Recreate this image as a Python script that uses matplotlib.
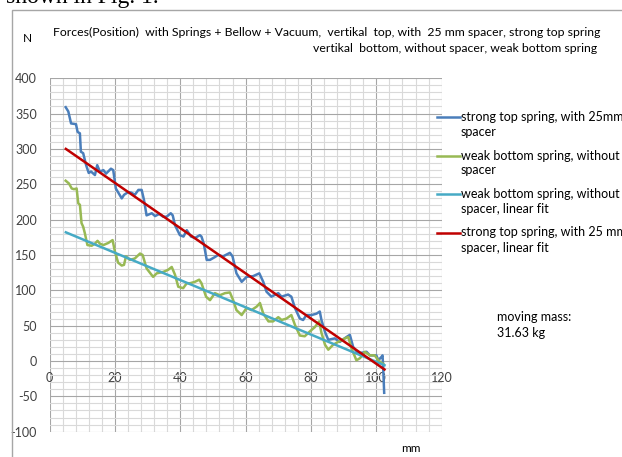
import matplotlib
matplotlib.use("Agg")
import matplotlib.pyplot as plt
from matplotlib.lines import Line2D
from matplotlib.patches import Rectangle
from matplotlib.ticker import MultipleLocator

plt.rcParams['font.family'] = ['Lato', 'DejaVu Sans']
plt.rcParams['axes.unicode_minus'] = False

# strong top spring, with 25 mm spacer (mm, N)
top_x = [4.95, 5.75, 6.6, 8.1, 8.6, 9.3, 9.6, 10.3, 11.2, 12.0, 12.7, 13.9, 14.6, 15.4, 16.5,
         17.3, 18.8, 19.5, 20.3, 22.1, 22.8, 24.1, 25.1, 26.1, 27.2, 28.2, 28.9, 29.7, 31.3,
         32.3, 33.6, 34.8, 35.8, 37.1, 37.7, 38.4, 39.9, 41.0, 42.0, 43.3, 44.5, 46.0, 46.5,
         47.2, 48.1, 49.1, 50.6, 51.6, 53.1, 55.2, 56.0, 57.2, 58.8, 60.3, 62.3, 64.2, 65.4,
         66.4, 67.9, 70.0, 71.0, 73.0, 74.0, 75.1, 76.6, 77.6, 78.6, 80.2, 81.7, 82.7, 83.2,
         84.3, 85.3, 87.3, 88.8, 90.9, 91.9, 92.9, 94.4, 96.0, 97.0, 98.0, 100.0, 100.6,
         101.6, 101.9, 102.1, 102.4]
top_y = [359, 353, 336, 335, 324, 322, 296, 294, 277, 266, 268, 263, 277, 268, 270,
         265, 272, 270, 244, 230, 235, 239, 238, 235, 242, 242, 228, 206, 209,
         205, 208, 204, 204, 209, 206, 192, 178, 176, 185, 176, 174, 178, 176,
         166, 143, 143, 147, 150, 148, 153, 148, 124, 112, 119, 120, 124, 112,
         98, 91, 96, 91, 94, 91, 75, 60, 58, 65, 65, 67, 70, 58,
         41, 30, 32, 27, 34, 37, 20, 11, 12, 13, 8, 8, 1,
         6, 8, -10, -45]

# weak bottom spring, without spacer
bot_x = [4.95, 5.96, 6.8, 7.5, 8.3, 8.8, 9.3, 9.8, 10.3, 10.8, 11.6, 12.9, 13.9, 14.7, 15.4,
         16.5, 18.0, 19.3, 20.0, 21.0, 22.1, 22.8, 23.4, 24.6, 26.1, 27.7, 28.5, 29.7, 31.7,
         32.8, 34.8, 36.3, 37.4, 38.4, 39.4, 40.9, 42.0, 43.0, 44.5, 45.8, 46.5, 47.9, 49.1,
         50.6, 52.1, 53.7, 55.2, 56.2, 57.2, 58.8, 60.3, 61.8, 63.4, 64.4, 65.4, 67.0, 68.4,
         70.0, 71.0, 72.5, 74.0, 75.1, 76.6, 78.1, 79.7, 81.2, 82.5, 83.2, 84.3, 85.3, 86.8,
         88.3, 90.4, 91.4, 92.4, 93.9, 95.0, 96.5, 98.0, 99.5, 100.6, 101.6, 102.1]
bot_y = [255, 251, 244, 243, 244, 223, 221, 195, 190, 181, 164, 163, 166, 170, 166,
         164, 167, 171, 155, 139, 135, 136, 148, 143, 145, 152, 150, 131, 119,
         124, 126, 129, 133, 122, 105, 103, 110, 110, 112, 115, 110, 91, 86,
         96, 93, 96, 97, 86, 72, 65, 75, 72, 77, 82, 67, 56, 56,
         62, 58, 60, 65, 51, 36, 35, 42, 48, 56, 40, 23, 16, 23,
         27, 32, 34, 18, 1, 4, 13, 8, 8, 1, -3, -4]

# linear fits (end points)
bot_fit_x = [5, 102.5]
bot_fit_y = [182, -6]
top_fit_x = [5, 102.5]
top_fit_y = [300, -12]

labels = [["strong top spring, with 25mm", "spacer"],
          ["weak bottom spring, without", "spacer"],
          ["weak bottom spring, without", "spacer, linear fit"],
          ["strong top spring, with 25 mm", "spacer, linear fit"]]
colors = ['#4a7ebb', '#98b954', '#46aac5', '#c00000']

W, H = 622, 457
fig = plt.figure(figsize=(W / 100, H / 100), dpi=100)
fig.patch.set_facecolor('white')

def fx(px):
    return px / W

def fy(py):
    return 1 - py / H

# chart frame
fig.patches.append(Rectangle((fx(12), -0.1), 1.0, fy(9.5) + 0.1, transform=fig.transFigure,
                             fill=False, edgecolor='#a6a6a6', lw=1.0))
# caption of the page above, cut by the top edge
fig.text(fx(6), fy(3), "shown in Fig. 1.", family='Liberation Serif', fontsize=17,
         ha='left', va='baseline')

ax = fig.add_axes([fx(49.5), fy(431.7), fx(441.7) - fx(49.5), fy(78.2) - fy(431.7)])
ax.set_xlim(0, 120)
ax.set_ylim(-100, 400)
ax.xaxis.set_major_locator(MultipleLocator(20))
ax.xaxis.set_minor_locator(MultipleLocator(4))
ax.yaxis.set_major_locator(MultipleLocator(50))
ax.yaxis.set_minor_locator(MultipleLocator(10))
ax.grid(which='major', color='#a6a6a6', lw=0.8)
ax.grid(which='minor', color='#d9d9d9', lw=0.8)
ax.set_axisbelow(True)
for s in ax.spines.values():
    s.set_visible(False)
ax.spines['bottom'].set_position(('data', 0))
ax.tick_params(which='both', length=0, labelsize=9, colors='#404040')
ax.tick_params(axis='x', pad=8)
ax.tick_params(axis='y', pad=9)

ax.plot(top_x, top_y, color=colors[0], lw=1.8)
ax.plot(bot_x, bot_y, color=colors[1], lw=1.8)
ax.plot(bot_fit_x, bot_fit_y, color=colors[2], lw=1.8)
ax.plot(top_fit_x, top_fit_y, color=colors[3], lw=1.8)

# legend, drawn Excel style
for i, (lab, c) in enumerate(zip(labels, colors)):
    y0 = 117 + i * 38.5
    fig.lines.append(Line2D([fx(437), fx(460)], [fy(y0), fy(y0)], color=c, lw=1.8,
                            transform=fig.transFigure))
    fig.text(fx(461), fy(y0), lab[0], fontsize=9, va='center', ha='left')
    fig.text(fx(461), fy(y0 + 15), lab[1], fontsize=9, va='center', ha='left')

fig.text(fx(27), fy(38), "N", fontsize=8.5, va='center', ha='center')
fig.text(fx(53), fy(32), "Forces(Position)  with Springs + Bellow + Vacuum,  vertikal  top, "
         "with  25 mm spacer, strong top spring", fontsize=8.85, va='center', ha='left')
fig.text(fx(597), fy(49), "vertikal  bottom, without spacer, weak bottom spring",
         fontsize=8.85, va='center', ha='right')
fig.text(fx(497), fy(317), "moving mass:", fontsize=9, va='center', ha='left')
fig.text(fx(497), fy(333), "31.63 kg", fontsize=9, va='center', ha='left')
fig.text(fx(411), fy(449), "mm", fontsize=8.5, va='center', ha='center')

fig.savefig("out.png", dpi=100)
